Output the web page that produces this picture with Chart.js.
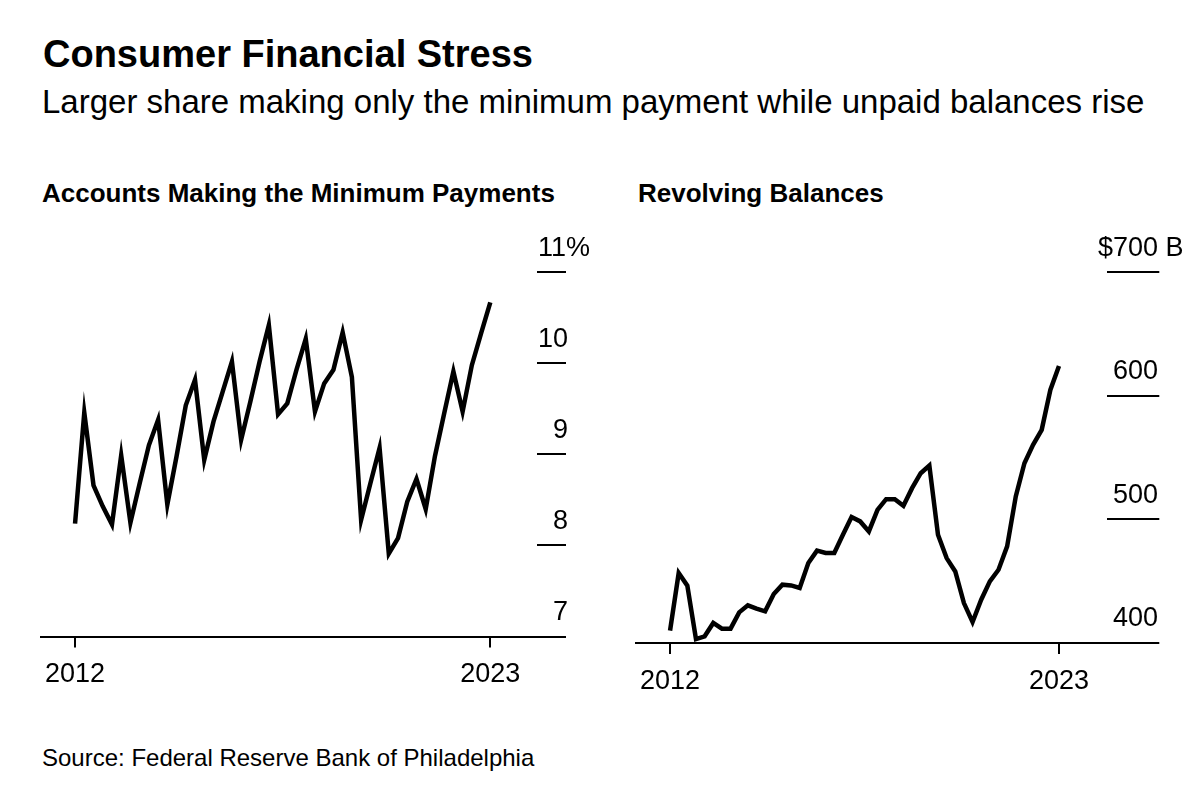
<!DOCTYPE html>
<html>
<head>
<meta charset="utf-8">
<title>Consumer Financial Stress</title>
<script src="https://cdn.jsdelivr.net/npm/chart.js@4.4.0/dist/chart.umd.min.js"></script>
<style>
  html, body { margin: 0; padding: 0; background: #fff; }
  body { width: 1200px; height: 790px; position: relative; overflow: hidden;
         font-family: "Liberation Sans", Arial, sans-serif; color: #000; }
  .txt { position: absolute; left: 42px; white-space: nowrap; line-height: 1; }
  #title { top: 34.5px; left: 43px; font-size: 38px; font-weight: bold; }
  #subtitle { top: 84.8px; font-size: 33px; }
  .panel-title { top: 180px; font-size: 26px; font-weight: bold; }
  #source { top: 746px; font-size: 24px; }
  .chart-box { position: absolute; top: 210px; width: 600px; height: 500px; }
</style>
</head>
<body>
<div id="title" class="txt">Consumer Financial Stress</div>
<div id="subtitle" class="txt">Larger share making only the minimum payment while unpaid balances rise</div>
<div class="txt panel-title">Accounts Making the Minimum Payments</div>
<div class="txt panel-title" style="left:638px">Revolving Balances</div>

<div class="chart-box" style="left:0"><canvas id="shareChart"></canvas></div>
<div class="chart-box" style="left:600px"><canvas id="balanceChart"></canvas></div>

<div id="source" class="txt">Source: Federal Reserve Bank of Philadelphia</div>

<script>
// quarterly data, 2012 Q3 - 2023 Q4
const quarters = [
    '2012 Q3', '2012 Q4',
    '2013 Q1', '2013 Q2', '2013 Q3', '2013 Q4',
    '2014 Q1', '2014 Q2', '2014 Q3', '2014 Q4',
    '2015 Q1', '2015 Q2', '2015 Q3', '2015 Q4',
    '2016 Q1', '2016 Q2', '2016 Q3', '2016 Q4',
    '2017 Q1', '2017 Q2', '2017 Q3', '2017 Q4',
    '2018 Q1', '2018 Q2', '2018 Q3', '2018 Q4',
    '2019 Q1', '2019 Q2', '2019 Q3', '2019 Q4',
    '2020 Q1', '2020 Q2', '2020 Q3', '2020 Q4',
    '2021 Q1', '2021 Q2', '2021 Q3', '2021 Q4',
    '2022 Q1', '2022 Q2', '2022 Q3', '2022 Q4',
    '2023 Q1', '2023 Q2', '2023 Q3', '2023 Q4'
];

// share of accounts making only the minimum payment (%)
const minPaymentShare = [
    8.24, 9.46, 8.66, 8.43, 8.23, 8.99, 8.25, 8.68, 9.10, 9.38,
    8.45, 8.98, 9.54, 9.82, 8.94, 9.36, 9.69, 10.02, 9.16, 9.58,
    10.02, 10.42, 9.44, 9.56, 9.93, 10.27, 9.47, 9.78, 9.93, 10.34,
    9.85, 8.28, 8.68, 9.07, 7.91, 8.08, 8.48, 8.73, 8.40, 8.98,
    9.45, 9.91, 9.47, 9.98, 10.33, 10.67
];

// revolving balances ($ billions)
const revolvingBalances = [
    410.0, 456.6, 446.4, 403.2, 405.4, 416.2, 411.6, 411.6, 424.8, 430.5,
    427.8, 425.6, 439.6, 447.2, 446.6, 444.5, 464.7, 474.7, 472.8, 472.8,
    487.6, 501.9, 498.4, 490.3, 507.8, 516.4, 516.4, 511.0, 525.3, 537.4,
    543.6, 487.6, 468.7, 457.9, 432.3, 417.0, 435.0, 449.9, 459.3, 478.2,
    518.6, 545.5, 560.4, 572.5, 604.8, 624.2
];

const yearTickIdx = [0, quarters.length - 1];
const yearTickLabels = ['2012', '2023'];

const shareTicks = [7, 8, 9, 10, 11];
const shareTickLabels = ['7', '8', '9', '10', '11%'];
const balanceTicks = [400, 500, 600, 700];
const balanceTickLabels = ['400', '500', '600', '$700 B'];

Chart.defaults.font.family = '"Liberation Sans", Arial, sans-serif';
Chart.defaults.color = '#000';

const FIG = '\u2007'; // figure space, same width as a digit

function lineChart(canvasId, values, cfg) {
    return new Chart(document.getElementById(canvasId), {
        type: 'line',
        data: {
            datasets: [{
                data: values.map((v, i) => ({ x: i, y: v })),
                borderColor: '#000',
                borderWidth: 4.5,
                pointRadius: 0,
                tension: 0,
                clip: false
            }]
        },
        options: {
            responsive: true,
            maintainAspectRatio: false,
            animation: false,
            events: [],
            layout: { padding: cfg.padding },
            plugins: { legend: { display: false }, tooltip: { enabled: false } },
            scales: {
                x: {
                    type: 'linear',
                    min: cfg.xMin,
                    max: cfg.xMax,
                    afterBuildTicks: s => { s.ticks = yearTickIdx.map(v => ({ value: v })); },
                    afterFit: s => { s.height = 60; },
                    border: { display: true, color: '#000', width: 2 },
                    grid: { drawOnChartArea: false, drawTicks: true, tickLength: 11, color: '#000', lineWidth: 2 },
                    ticks: {
                        autoSkip: false, maxRotation: 0, padding: 11,
                        font: { size: 27 },
                        callback: (v, i) => yearTickLabels[i]
                    }
                },
                y: {
                    position: 'right',
                    min: cfg.ticks[0],
                    max: cfg.ticks[cfg.ticks.length - 1],
                    afterBuildTicks: s => { s.ticks = cfg.ticks.map(v => ({ value: v })); },
                    afterFit: s => {
                        s.width = cfg.yWidth;
                        // labels sit above their ticks, keep them from pushing the plot area in
                        s.paddingTop = 0;
                        s.paddingBottom = 0;
                    },
                    border: { display: false },
                    grid: { drawOnChartArea: false, drawTicks: true, tickLength: cfg.tickLen, color: '#000', lineWidth: 2 },
                    ticks: {
                        // mirror + far: left-aligned at (axis left + padding - widest label),
                        // and not clipped to the axis box
                        mirror: true,
                        crossAlign: 'far',
                        padding: cfg.labelPad,
                        labelOffset: -24,
                        font: { size: 27 },
                        callback: (v, i) => cfg.format(cfg.labels[i])
                    }
                }
            }
        }
    });
}

// left panel: "11" ends where the tick ends, "%" hangs past it
lineChart('shareChart', minPaymentShare, {
    padding: { left: 41, top: 62.3, right: 0, bottom: 13.5 },
    xMin: -3.69, xMax: 50.06,
    ticks: shareTicks, labels: shareTickLabels,
    yWidth: 63, tickLen: 29, labelPad: 53,
    format: t => (/^\d$/.test(t) ? FIG + t : t)
});

// right panel: "$" and "B" hang either side of the numbers
lineChart('balanceChart', revolvingBalances, {
    padding: { left: 36, top: 62.3, right: 0, bottom: 7 },
    xMin: -3.94, xMax: 50.52,
    ticks: balanceTicks, labels: balanceTickLabels,
    yWidth: 93.3, tickLen: 52.6, labelPad: 76.9,
    format: t => (t.startsWith('$') ? t : FIG + t)
});
</script>
</body>
</html>
